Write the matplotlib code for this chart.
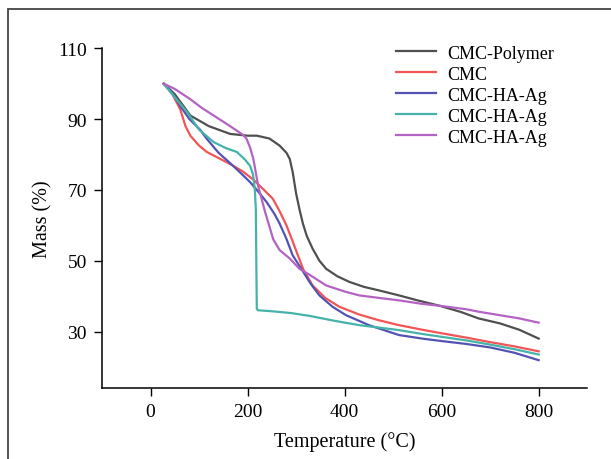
import matplotlib
matplotlib.use("Agg")
import matplotlib.pyplot as plt
from matplotlib.patches import Rectangle

plt.rcParams['font.family'] = ['Liberation Serif', 'DejaVu Serif']

# Data
t_polymer = [27, 50, 82, 120, 164, 200, 219, 245, 266, 280, 287, 293, 300, 307, 314, 322, 334, 348, 362, 385, 410, 440, 471, 512, 550, 595, 640, 676, 720, 760, 800]
m_polymer = [100, 97, 91, 88, 85.8, 85.3, 85.3, 84.5, 82.5, 80.5, 78.7, 75, 69, 64.5, 60.5, 57, 53.4, 50, 47.7, 45.6, 44, 42.6, 41.6, 40.2, 38.8, 37.3, 35.5, 33.7, 32.3, 30.5, 28]

t_cmc = [27, 45, 61, 72, 82, 100, 116, 140, 164, 190, 211, 230, 252, 266, 280, 290, 301, 315, 334, 360, 389, 430, 470, 512, 560, 600, 650, 700, 750, 800]
m_cmc = [100, 97, 92.8, 88, 85.3, 82.5, 80.7, 79, 77.3, 75.2, 73, 70.5, 67.5, 64, 60, 56.5, 52.5, 47.5, 43, 39.5, 37, 34.8, 33.2, 31.8, 30.5, 29.5, 28.3, 27, 25.8, 24.4]

t_ag1 = [27, 45, 61, 80, 102, 116, 140, 170, 184, 205, 222, 239, 255, 266, 280, 293, 314, 330, 348, 375, 403, 450, 512, 560, 600, 650, 700, 750, 800]
m_ag1 = [100, 97.5, 93.7, 90, 87, 84.4, 80.5, 76.8, 75, 72.2, 69.5, 66.6, 63.3, 60.5, 56.2, 51.5, 47, 43.5, 40.2, 37, 34.6, 31.8, 29, 28, 27.3, 26.5, 25.5, 24, 21.9]

t_ag2 = [27, 45, 75, 100, 130, 155, 178, 195, 205, 211, 215, 217, 218, 219, 221, 252, 290, 328, 380, 430, 512, 560, 600, 650, 700, 750, 800]
m_ag2 = [100, 97, 92, 87, 83.5, 81.8, 80.7, 78.5, 76.8, 74.5, 70, 64.6, 50, 36.5, 36, 35.7, 35.2, 34.4, 33, 31.8, 30.4, 29.3, 28.5, 27.5, 26.3, 25, 23.5]

t_ag3 = [27, 50, 82, 105, 130, 155, 178, 191, 198, 205, 212, 222, 236, 253, 266, 287, 307, 328, 362, 400, 430, 470, 512, 560, 600, 650, 676, 720, 760, 800]
m_ag3 = [100, 98.5, 95.6, 93.2, 91, 88.8, 86.7, 85.5, 84.4, 82, 78.7, 71, 63.8, 56, 53, 50.6, 47.7, 46, 43, 41.3, 40.2, 39.5, 38.8, 37.8, 37.2, 36.3, 35.6, 34.6, 33.7, 32.5]

labels = ['CMC-Polymer', 'CMC', 'CMC-HA-Ag', 'CMC-HA-Ag', 'CMC-HA-Ag']
colors = ['#505050', '#f25555', '#5353b3', '#45b3a8', '#b463c4']

x_ticks = [0, 200, 400, 600, 800]
y_ticks = [30, 50, 70, 90, 110]

fig = plt.figure(figsize=(6.11, 4.60), dpi=100)
ax = fig.add_axes([0.167, 0.154, 0.794, 0.739])

series = [(t_polymer, m_polymer), (t_cmc, m_cmc), (t_ag1, m_ag1), (t_ag2, m_ag2), (t_ag3, m_ag3)]
for (t, m), lab, c in zip(series, labels, colors):
    ax.plot(t, m, color=c, lw=1.6, label=lab)

ax.set_xlim(-100, 900)
ax.set_ylim(14, 110)
ax.set_xticks(x_ticks)
ax.set_yticks(y_ticks)
ax.tick_params(direction='out', length=6, width=1, labelsize=14, pad=5, colors='black')
for s in ['top', 'right']:
    ax.spines[s].set_visible(False)
for s in ['left', 'bottom']:
    ax.spines[s].set_linewidth(1.1)

ax.set_xlabel('Temperature (°C)', fontsize=14.5, labelpad=8)
ax.set_ylabel('Mass (%)', fontsize=14.5, labelpad=4)

ax.legend(loc='upper left', bbox_to_anchor=(0.573, 1.058), frameon=False, fontsize=13,
          handlelength=2.2, handletextpad=0.6, labelspacing=0.22)

# figure border
rect = Rectangle((0.013, -0.1), 1.2, 0.1 + 0.978, transform=fig.transFigure,
                 fill=False, edgecolor='#444444', lw=1.3, clip_on=False)
fig.patches.append(rect)

fig.savefig('out.png', dpi=100)
